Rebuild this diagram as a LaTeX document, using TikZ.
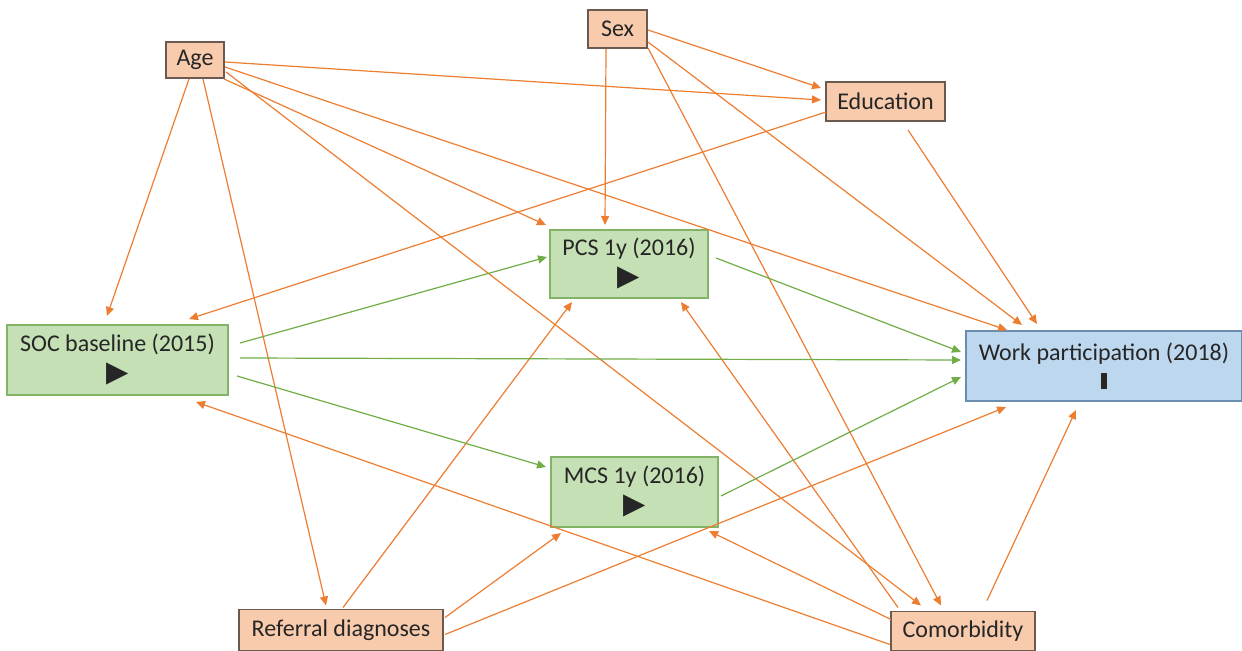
\documentclass[tikz,border=0pt]{standalone}
\usepackage{fontspec}
\setmainfont{Carlito}
\newfontfamily\glyphfont{DejaVu Sans}
\usetikzlibrary{arrows.meta,calc}

\definecolor{covfill}{HTML}{F8CBAD}
\definecolor{covline}{HTML}{6B5A50}
\definecolor{medfill}{HTML}{C5E0B4}
\definecolor{medline}{HTML}{82B366}
\definecolor{outfill}{HTML}{BDD7EE}
\definecolor{outline}{HTML}{6A8DB0}
\definecolor{orangearrow}{HTML}{ED7D31}
\definecolor{greenarrow}{HTML}{70AD47}
\definecolor{labeltext}{HTML}{262626}

\newcommand{\playmark}{{\glyphfont\fontsize{14.5}{14.5}\selectfont ▶}}
\newcommand{\stopmark}{\rule{3pt}{8pt}}

\begin{document}
\begin{tikzpicture}[x=0.5pt, y=-0.5pt,
  every node/.style={font=\fontsize{12}{15}\selectfont, text=labeltext, inner sep=0pt},
  covariate/.style={draw=covline, fill=covfill, line width=0.7pt},
  mediator/.style={draw=medline, fill=medfill, line width=0.7pt, align=center},
  outcome/.style={draw=outline, fill=outfill, line width=0.7pt, align=center},
  confound/.style={every edge/.style={draw=orangearrow, line width=0.6pt, -{Triangle[length=4.5pt,width=4pt]}}},
  pathway/.style={every edge/.style={draw=greenarrow, line width=0.6pt, -{Triangle[length=4.5pt,width=4pt]}}}]
  \useasboundingbox (0,0) rectangle (1242,651);

  \node[covariate, minimum width=29pt, minimum height=18pt] (age) at (195,60) {Age};
  \node[covariate, minimum width=29.5pt, minimum height=19pt] (sex) at (617.5,29) {Sex};
  \node[covariate, minimum width=59.5pt, minimum height=19.5pt] (edu) at (885.5,101.5) {Education};
  \node[mediator, minimum width=79pt, minimum height=34pt] (pcs) at (629,264) {PCS 1y (2016)\\\playmark};
  \node[mediator, minimum width=110.5pt, minimum height=35pt] (soc) at (117.5,360) {SOC baseline (2015)\\\playmark};
  \node[outcome, minimum width=138pt, minimum height=35pt] (work) at (1104,366) {Work participation (2018)\\[-1pt]\stopmark};
  \node[mediator, minimum width=83.5pt, minimum height=35pt] (mcs) at (634.5,492) {MCS 1y (2016)\\\playmark};
  \node[covariate, minimum width=102pt, minimum height=20.5pt] (ref) at (341,630) {Referral diagnoses};
  \node[covariate, minimum width=72pt, minimum height=19.5pt] (com) at (963,631) {Comorbidity};

  % confounders
  \path[confound]
  ($(age.center)+(-6,19)$) edge ($(soc.center)+(-10.5,-44)$)
  ($(age.center)+(8,19)$) edge ($(ref.center)+(-15,-24.5)$)
  ($(age.center)+(29,19)$) edge ($(pcs.center)+(-83,-39)$)
  ($(age.center)+(30,2)$) edge ($(edu.center)+(-64.5,-1.5)$)
  ($(age.center)+(30,7)$) edge ($(work.center)+(-97,-36)$)
  ($(age.center)+(31,12)$) edge ($(com.center)+(-42,-25.5)$)
  ($(sex.center)+(30.5,1)$) edge ($(edu.center)+(-64.5,-13.5)$)
  ($(sex.center)+(-11.5,20)$) edge ($(pcs.center)+(-24,-39)$)
  ($(sex.center)+(30.5,13)$) edge ($(work.center)+(-82,-41)$)
  ($(sex.center)+(30.5,19)$) edge ($(com.center)+(-22,-25.5)$)
  ($(edu.center)+(-59.5,10.5)$) edge ($(soc.center)+(71.5,-41)$)
  ($(edu.center)+(22.5,28.5)$) edge ($(work.center)+(-67,-42)$)
  ($(ref.center)+(2,-22.5)$) edge ($(pcs.center)+(-57,38)$)
  ($(ref.center)+(104,-12.5)$) edge ($(mcs.center)+(-73.5,41)$)
  ($(ref.center)+(104,4.5)$) edge ($(work.center)+(-98,41)$)
  ($(com.center)+(-73,13.5)$) edge ($(soc.center)+(78.5,42)$)
  ($(com.center)+(-65,-23.5)$) edge ($(pcs.center)+(52,38)$)
  ($(com.center)+(-72,-11.5)$) edge ($(mcs.center)+(74.5,39)$)
  ($(com.center)+(24,-30.5)$) edge ($(work.center)+(-28,44)$);

  % SOC, PCS and MCS towards work
  \path[pathway]
  ($(soc.center)+(122.5,-17)$) edge ($(pcs.center)+(-82,-7)$)
  ($(soc.center)+(122.5,-2)$) edge ($(work.center)+(-143,-6)$)
  ($(soc.center)+(119.5,16)$) edge ($(mcs.center)+(-88.5,-25)$)
  ($(pcs.center)+(87,-6)$) edge ($(work.center)+(-143,-14)$)
  ($(mcs.center)+(86.5,4)$) edge ($(work.center)+(-143,11)$);
\end{tikzpicture}
\end{document}
